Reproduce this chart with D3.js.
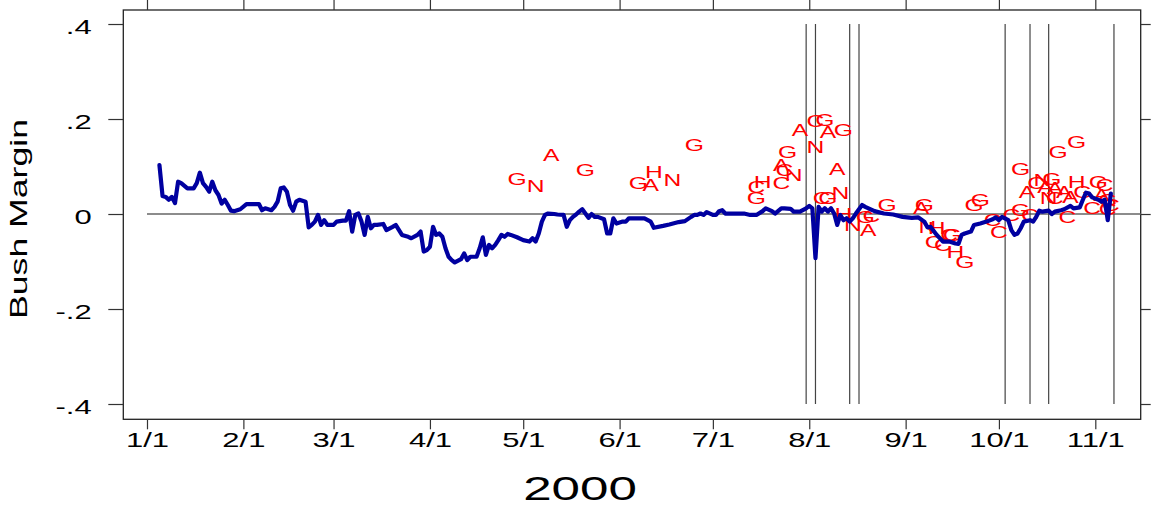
<!DOCTYPE html>
<html>
<head>
<meta charset="utf-8">
<script src="https://cdn.jsdelivr.net/npm/d3@7"></script>
<style>
  body { margin: 0; background: #fff; }
  svg { display: block; }
  text { font-family: "Liberation Sans", Arial, sans-serif; }
</style>
</head>
<body>
<svg id="chart" width="1151" height="508"></svg>
<script>
// ---- data ----------------------------------------------------------
const monthTicks = ["1/1", "2/1", "3/1", "4/1", "5/1", "6/1", "7/1", "8/1", "9/1", "10/1", "11/1"];
const yTicks = [0.4, 0.2, 0, -0.2, -0.4];
const yTickLabels = [".4", ".2", "0", "-.2", "-.4"];

// conventions, debates and election day
const eventDates = ["7/31", "8/3", "8/14", "8/17", "10/3", "10/11", "10/17", "11/7"];

// daily tracking margin: days after Jan 1, 2000 and Bush margin
const trackDays = [4, 5, 6, 7, 8, 9, 10, 11, 13, 15, 16, 17, 18, 19, 20, 21, 22, 23, 24, 25, 26, 27, 28, 30, 32, 36, 37, 38, 40, 41, 42, 43, 44, 45, 46, 47, 48, 49, 51,
  52, 53, 54, 55, 56, 57, 58, 60, 61, 63, 64, 65, 66, 67, 68, 69, 70, 71, 72, 73, 74, 76, 77, 79, 80, 82, 84, 85, 87, 88, 89, 90, 91, 92, 93, 94, 95, 96, 97, 98, 99,
  101, 102, 103, 104, 106, 107, 108, 109, 110, 111, 112, 113, 114, 115, 116, 117, 119, 121, 123, 124, 125, 126, 127, 128, 129, 131, 132, 134, 135, 136, 137, 138, 139, 140,
  141, 142, 143, 144, 145, 147, 148, 149, 150, 151, 153, 154, 155, 158, 160, 162, 163, 166, 168, 171, 173, 175, 176, 177, 178, 179, 180, 182, 183, 184, 185, 186, 189,
  192, 194, 196, 198, 199, 201, 202, 204, 205, 207, 208, 210, 212, 213, 214, 215, 216, 217, 218, 219, 220, 221, 222, 223, 224, 225, 226, 227, 228, 230, 231, 234, 237,
  240, 243, 246, 248, 250, 251, 252, 254, 256, 258, 260, 261, 262, 263, 265, 266, 268, 270, 272, 273, 274, 275, 277, 278, 279, 280, 281, 282, 284, 285, 286, 287, 288,
  290, 291, 292, 294, 295, 297, 298, 300, 301, 302, 303, 304, 306, 307, 308, 309, 310];
const trackMargin = [0.103, 0.038, 0.036, 0.030, 0.036, 0.023, 0.068, 0.065, 0.054, 0.054, 0.065, 0.087, 0.065, 0.057, 0.047, 0.068, 0.050, 0.040, 0.022, 0.030, 0.019, 0.007, 0.006, 0.010, 0.021, 0.021, 0.008, 0.012, 0.008, 0.015, 0.026, 0.054, 0.056, 0.047, 0.019, 0.007, 0.026, 0.030, 0.026,
  -0.028, -0.023, -0.016, -0.002, -0.023, -0.013, -0.023, -0.023, -0.016, -0.014, -0.014, 0.006, -0.037, -0.002, 0.001, -0.016, -0.044, -0.006, -0.030, -0.023, -0.023, -0.021, -0.034, -0.027, -0.023, -0.044, -0.048, -0.051, -0.044, -0.037, -0.079, -0.076, -0.069, -0.027, -0.044, -0.041, -0.048, -0.072, -0.090, -0.097, -0.102,
  -0.095, -0.083, -0.097, -0.090, -0.090, -0.072, -0.049, -0.086, -0.065, -0.072, -0.065, -0.055, -0.044, -0.048, -0.042, -0.044, -0.049, -0.055, -0.058, -0.051, -0.058, -0.041, -0.016, -0.002, 0.001, 0.000, -0.001, -0.002, -0.027, -0.013, -0.006, -0.001, 0.005, 0.010,
  0.001, -0.008, 0.000, -0.006, -0.006, -0.011, -0.041, -0.041, -0.009, -0.020, -0.016, -0.016, -0.009, -0.009, -0.009, -0.016, -0.029, -0.025, -0.022, -0.017, -0.015, -0.006, -0.002, -0.002, 0.001, -0.002, 0.004, -0.002, -0.002, 0.006, 0.008, 0.001, 0.001,
  0.001, -0.002, -0.002, 0.006, 0.012, 0.006, 0.001, 0.012, 0.012, 0.011, 0.005, 0.005, 0.012, 0.017, 0.012, -0.093, 0.015, 0.005, 0.012, 0.005, 0.012, 0.001, -0.023, -0.002, -0.013, -0.009, -0.016, -0.009, 0.001, 0.019, 0.015, 0.006, 0.001,
  -0.001, -0.006, -0.008, -0.007, -0.016, -0.028, -0.027, -0.044, -0.058, -0.058, -0.062, -0.063, -0.044, -0.041, -0.037, -0.023, -0.020, -0.016, -0.011, -0.007, -0.013, -0.006, -0.013, -0.034, -0.044, -0.041, -0.030, -0.016, -0.013, -0.016, -0.006, 0.007, 0.005,
  0.007, 0.000, 0.005, 0.008, 0.010, 0.017, 0.012, 0.014, 0.030, 0.045, 0.043, 0.035, 0.030, 0.026, 0.030, -0.013, 0.043];

// individual polls: days after Jan 1, 2000, Bush margin, pollster code
const pollDays = [119, 125, 130, 141, 158, 162, 163, 169, 176,
  196, 196, 198, 204, 204, 205, 206, 208, 210, 215, 215, 218, 219, 224, 222, 223, 217, 219, 224, 227, 232, 231, 233,
  238, 249, 250, 251, 254, 253, 256, 259, 258, 260, 263, 266, 268, 272, 274, 278, 281, 284,
  281, 283, 286, 288, 291, 289, 292, 290, 292, 293, 299, 295, 297, 296, 299, 301, 304, 306, 308, 307, 309, 309, 310];
const pollMargin = [0.075, 0.060, 0.124, 0.093, 0.066, 0.061, 0.089, 0.072, 0.145,
  0.033, 0.057, 0.068, 0.066, 0.103, 0.093, 0.131, 0.082, 0.177, 0.142, 0.196, 0.198, 0.173, 0.178, 0.096, 0.044, 0.033, 0.033, 0.001, -0.023, -0.034, -0.006, -0.003,
  0.019, 0.012, 0.019, -0.027, -0.030, -0.058, -0.065, -0.044, -0.044, -0.079, -0.100, 0.019, 0.030, -0.013, -0.037, -0.002, 0.008, -0.002,
  0.096, 0.047, 0.065, 0.072, 0.075, 0.057, 0.054, 0.033, 0.033, 0.131, 0.152, 0.047, 0.036, -0.006, 0.068, 0.047, 0.012, 0.068, 0.062, 0.040, 0.030, 0.010, 0.020];
const pollCode = ["G", "N", "A", "G", "G", "A", "H", "N", "G",
  "G", "C", "H", "C", "A", "C", "G", "N", "A", "N", "C", "G", "A", "G", "A", "N", "C", "G", "H", "N", "A", "G", "C",
  "G", "A", "G", "N", "H", "C", "C", "G", "C", "H", "G", "G", "G", "C", "C", "C", "G", "C",
  "G", "A", "C", "N", "G", "A", "A", "N", "C", "G", "G", "A", "A", "C", "H", "G", "C", "G", "C", "A", "G", "C", "C"];

// ---- layout --------------------------------------------------------
const frame = { left: 123.3, top: 10, right: 1140.7, bottom: 419.3 };
const textStretch = 1.55;
const parseMD = s => d3.timeParse("%m/%d/%Y")(s + "/2000");
const jan1 = new Date(2000, 0, 1);
const dayToDate = d => d3.timeDay.offset(jan1, d);

const svg = d3.select("#chart");

const x = d3.scaleTime()
  .domain([new Date(1999, 11, 24, 9, 7), new Date(2000, 10, 15, 14, 24)])
  .range([frame.left, frame.right]);
const y = d3.scaleLinear()
  .domain([-0.4322, 0.4295])
  .range([frame.bottom, frame.top]);

const monthDates = monthTicks.map(parseMD);

// frame
svg.append("rect")
  .attr("x", frame.left).attr("y", frame.top)
  .attr("width", frame.right - frame.left).attr("height", frame.bottom - frame.top)
  .attr("fill", "none").attr("stroke", "#222").attr("stroke-width", 1.3);

// axes
const styleAxis = g => {
  g.select(".domain").remove();
  g.selectAll(".tick line").attr("stroke", "#333").attr("stroke-width", 1.2);
  g.selectAll(".tick text").attr("fill", "#000");
};

svg.append("g")
  .attr("transform", `translate(0,${frame.bottom})`)
  .call(d3.axisBottom(x).tickValues(monthDates).tickFormat((d, i) => monthTicks[i]).tickSize(10).tickPadding(4))
  .call(styleAxis)
  .call(g => g.selectAll(".tick text")
    .attr("font-size", 20).attr("font-family", null)
    .attr("transform", `scale(${textStretch},1)`));

svg.append("g")
  .attr("transform", `translate(0,${frame.top})`)
  .call(d3.axisTop(x).tickValues(monthDates).tickFormat("").tickSize(10))
  .call(styleAxis);

svg.append("g")
  .attr("transform", `translate(${frame.left},0)`)
  .call(d3.axisLeft(y).tickValues(yTicks).tickFormat((d, i) => yTickLabels[i]).tickSize(15))
  .call(styleAxis)
  .call(g => g.selectAll(".tick text")
    .attr("font-size", 20).attr("font-family", null)
    .attr("x", -31.6 / textStretch).attr("dy", "0.47em")
    .attr("transform", `scale(${textStretch},1)`));

svg.append("g")
  .attr("transform", `translate(${frame.right},0)`)
  .call(d3.axisRight(y).tickValues(yTicks).tickFormat("").tickSize(10))
  .call(styleAxis);

// axis titles
svg.append("text")
  .attr("transform", `translate(26.7,219) rotate(-90) scale(${textStretch},1)`)
  .attr("text-anchor", "middle").attr("font-size", 23).attr("fill", "#000")
  .text("Bush Margin");

svg.append("text")
  .attr("transform", `translate(580,500) scale(${textStretch},1)`)
  .attr("text-anchor", "middle").attr("font-size", 33).attr("fill", "#000")
  .text("2000");

// zero reference line
svg.append("line")
  .attr("x1", x(jan1)).attr("x2", frame.right)
  .attr("y1", y(0)).attr("y2", y(0))
  .attr("stroke", "#666").attr("stroke-width", 1.3);

// event markers
svg.append("g").selectAll("line")
  .data(eventDates.map(parseMD))
  .join("line")
  .attr("x1", d => x(d)).attr("x2", d => x(d))
  .attr("y1", y(0.4)).attr("y2", y(-0.4))
  .attr("stroke", "#444").attr("stroke-width", 1.2);

// individual poll codes
svg.append("g").selectAll("text")
  .data(pollDays.map((d, i) => ({ date: dayToDate(d), v: pollMargin[i], code: pollCode[i] })))
  .join("text")
  .attr("transform", d => `translate(${x(d.date)},${y(d.v)}) scale(1.45,1)`)
  .attr("text-anchor", "middle").attr("dy", "0.36em")
  .attr("font-size", 17).attr("fill", "#ff0000")
  .text(d => d.code);

// tracking line
const track = trackDays.map((d, i) => ({ date: dayToDate(d), v: trackMargin[i] }));
svg.append("path")
  .datum(track)
  .attr("fill", "none")
  .attr("stroke", "#0000a0")
  .attr("stroke-width", 4.2)
  .attr("stroke-linejoin", "round")
  .attr("stroke-linecap", "round")
  .attr("d", d3.line().x(d => x(d.date)).y(d => y(d.v)));
</script>
</body>
</html>
